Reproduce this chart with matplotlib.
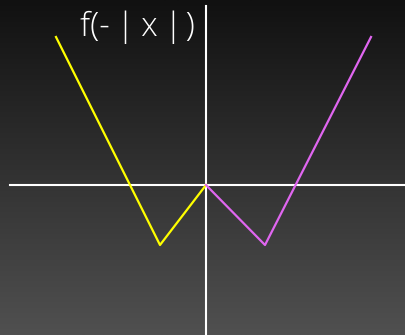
import numpy as np
from matplotlib import pyplot as plt
from matplotlib.colors import LinearSegmentedColormap

# left branch (yellow) and right branch (magenta)
left_x = [-7.5, -2.3, 0.0]
left_y = [7.4, -3.0, 0.0]
right_x = [0.0, 2.95, 8.25]
right_y = [0.0, -3.0, 7.4]
title = "f(-\u2009|\u2009x\u2009|\u200a)"

fig = plt.figure(figsize=(4.06, 3.35), dpi=100)
ax = fig.add_axes([0, 0, 1, 1])
xmin, xmax = -10.3, 10.0
ymin, ymax = -7.5, 9.25

# dark vertical gradient background, darkest at the top
cmap = LinearSegmentedColormap.from_list("bg", ["#111111", "#505050"])
grad = np.linspace(0, 1, 256).reshape(-1, 1)
ax.imshow(grad, cmap=cmap, aspect="auto", extent=[xmin, xmax, ymin, ymax], zorder=0)

# axes through the origin
ax.plot([-9.8, xmax], [0, 0], color="white", lw=1.5, zorder=2)
ax.plot([0, 0], [8.95, ymin], color="white", lw=1.5, zorder=2)

ax.plot(left_x, left_y, color="#ffff00", lw=1.6, zorder=3)
ax.plot(right_x, right_y, color="#e066f0", lw=1.6, zorder=3)

ax.text(-6.3, 7.9, title, color="white", fontsize=24, family=["Open Sans", "DejaVu Sans"],
        fontweight="light", ha="left", va="center", zorder=4)

ax.set_xlim(xmin, xmax)
ax.set_ylim(ymin, ymax)
ax.axis("off")
fig.savefig("out.png", dpi=100)
